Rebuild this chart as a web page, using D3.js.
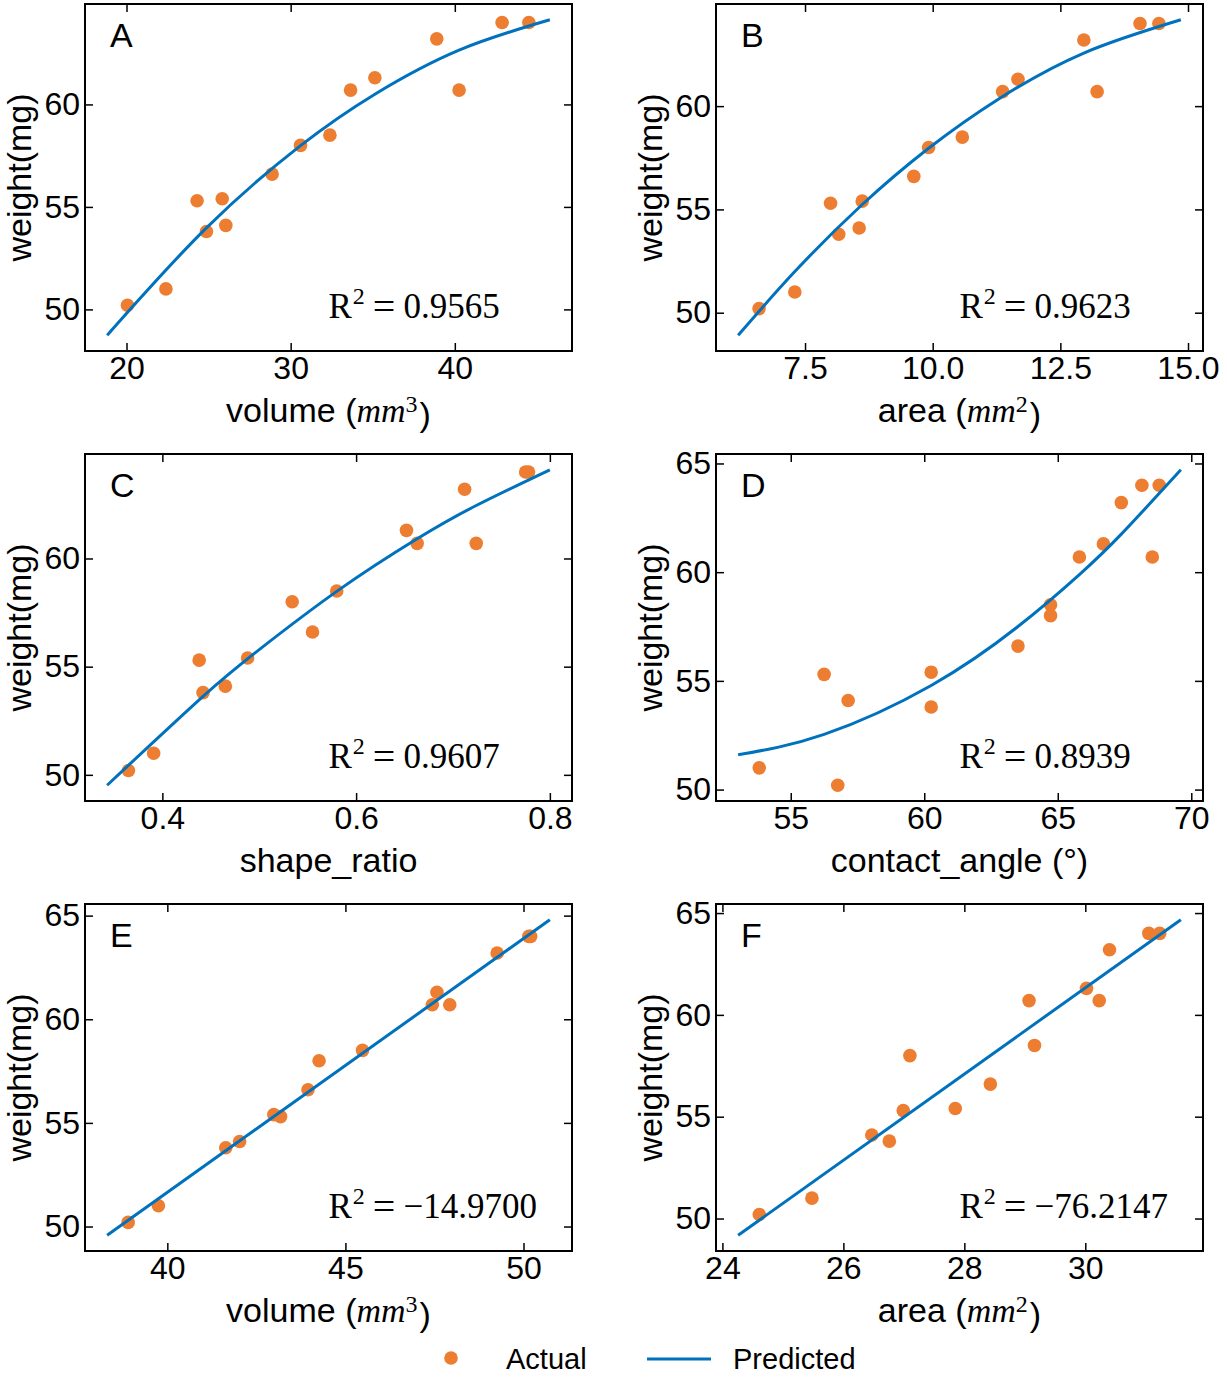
<!DOCTYPE html>
<html><head><meta charset="utf-8">
<script src="https://cdn.jsdelivr.net/npm/d3@7"></script>
<style>
body{margin:0;background:#fff}
svg text{font-family:"Liberation Sans",Arial,sans-serif;fill:#000}
</style>
</head><body>
<svg id="chart" width="1227" height="1392"></svg>
<script>
// ---------- data ----------
const weightMg = [50.2,51.0,53.8,54.1,55.3,55.4,56.6,58.0,58.5,60.7,60.7,61.3,63.2,64.0,64.0];

const volumeA      = [20.06,22.40,24.87,26.05,24.30,25.83,28.87,30.60,32.39,33.65,40.26,35.13,38.90,42.88,44.51];
const areaB        = [6.60,7.30,8.16,8.56,8.00,8.62,9.63,9.92,10.58,11.37,13.22,11.67,12.96,14.06,14.43];
const shapeRatioC  = [0.365,0.391,0.442,0.465,0.438,0.488,0.555,0.534,0.580,0.663,0.724,0.652,0.712,0.775,0.778];
const contactAngD  = [56.76,53.82,60.26,57.15,56.25,60.26,63.51,64.73,64.73,65.81,68.54,66.71,67.38,68.15,68.80];
const volumeE      = [38.90,39.75,41.64,42.03,43.18,42.99,43.95,44.26,45.48,47.44,47.93,47.57,49.26,50.15,50.20];
const areaF        = [24.61,25.48,26.76,26.47,26.99,27.85,28.43,27.10,29.16,29.07,30.23,30.02,30.40,31.05,31.23];

// predicted curves
const predAx = [18.82,24.87,30.60,35.13,40.26,45.79];
const predAy = [48.74,53.98,57.99,60.50,62.65,64.13];
const predBx = [6.19,7.30,8.60,9.92,11.30,12.96,14.86];
const predBy = [48.91,51.99,55.19,57.96,60.36,62.57,64.18];
const predCx = [0.343,0.442,0.500,0.580,0.663,0.724,0.800];
const predCy = [49.52,53.63,55.79,58.48,60.91,62.45,64.10];
const predDx = [53.03,56.25,60.26,63.51,65.81,67.38,69.61];
const predDy = [51.60,52.54,54.79,57.50,59.89,61.75,64.71];
const predEx = [38.31,50.74];
const predEy = [49.58,64.80];
const predFx = [24.26,31.58];
const predFy = [49.18,64.67];

// ticks
const xTicksA = [20,30,40];
const xTicksB = [7.5,10.0,12.5,15.0];
const xTicksC = [0.4,0.6,0.8];
const xTicksD = [55,60,65,70];
const xTicksE = [40,45,50];
const xTicksF = [24,26,28,30];
const yTicksABC = [50,55,60];
const yTicksDEF = [50,55,60,65];

const panelLetters = ["A","B","C","D","E","F"];
const r2Values = ["0.9565","0.9623","0.9607","0.8939","\u221214.9700","\u221276.2147"];
const xLabelMain = ["volume (","area (","shape_ratio","contact_angle (\u00B0)","volume (","area ("];
const xLabelUnitPow = ["3","2",null,null,"3","2"];
const yLabel = "weight(mg)";
const legendLabels = ["Actual","Predicted"];

// ---------- layout ----------
const ORANGE = "#ED7D31", BLUE = "#0072BD";
const W = 487, H = 347;
const lefts = [85, 716], tops = [4, 454, 904];
const TICK_FS = 32, LABEL_FS = 34;

const panels = [
  {xs: volumeA, px: predAx, py: predAy, xt: xTicksA, yt: yTicksABC, fmt: "d"},
  {xs: areaB, px: predBx, py: predBy, xt: xTicksB, yt: yTicksABC, fmt: ".1f"},
  {xs: shapeRatioC, px: predCx, py: predCy, xt: xTicksC, yt: yTicksABC, fmt: ".1f"},
  {xs: contactAngD, px: predDx, py: predDy, xt: xTicksD, yt: yTicksDEF, fmt: "d"},
  {xs: volumeE, px: predEx, py: predEy, xt: xTicksE, yt: yTicksDEF, fmt: "d"},
  {xs: areaF, px: predFx, py: predFy, xt: xTicksF, yt: yTicksDEF, fmt: "d"},
];

const svg = d3.select("#chart");

function padded(vals){
  const [a,b] = d3.extent(vals);
  const p = (b-a)*0.05;
  return [a-p, b+p];
}

panels.forEach((p, i) => {
  const left = lefts[i % 2], top = tops[Math.floor(i / 2)];
  const g = svg.append("g").attr("transform", `translate(${left},${top})`);
  const x = d3.scaleLinear().domain(padded(p.xs.concat(p.px))).range([0, W]);
  const y = d3.scaleLinear().domain(padded(weightMg.concat(p.py))).range([H, 0]);

  // axes (inward ticks on all sides)
  g.append("g").attr("transform", `translate(0,${H})`)
    .call(d3.axisBottom(x).tickValues(p.xt).tickFormat(d3.format(p.fmt)).tickSize(-8).tickPadding(5));
  g.append("g").call(d3.axisTop(x).tickValues(p.xt).tickFormat("").tickSize(-8));
  g.append("g")
    .call(d3.axisLeft(y).tickValues(p.yt).tickFormat(d3.format("d")).tickSize(-8).tickPadding(5));
  g.append("g").attr("transform", `translate(${W},0)`)
    .call(d3.axisRight(y).tickValues(p.yt).tickFormat("").tickSize(-8));
  g.selectAll(".domain").remove();
  g.selectAll(".tick line").attr("stroke", "#000").attr("stroke-width", 1.5);
  g.selectAll(".tick text").style("font-size", TICK_FS + "px")
    .style("font-family", '"Liberation Sans",Arial,sans-serif').attr("fill", "#000");

  // points
  g.append("g").selectAll("circle").data(p.xs).join("circle")
    .attr("cx", d => x(d)).attr("cy", (d, k) => y(weightMg[k]))
    .attr("r", 6.8).attr("fill", ORANGE);

  // predicted
  const line = d3.line().x(d => x(d[0])).y(d => y(d[1]))
    .curve(p.px.length > 2 ? d3.curveNatural : d3.curveLinear);
  g.append("path").datum(p.px.map((v, k) => [v, p.py[k]]))
    .attr("d", line).attr("fill", "none").attr("stroke", BLUE).attr("stroke-width", 3);

  // frame
  g.append("rect").attr("width", W).attr("height", H)
    .attr("fill", "none").attr("stroke", "#000").attr("stroke-width", 2);

  // panel letter
  g.append("text").attr("x", 25).attr("y", 43).style("font-size", "34px").text(panelLetters[i]);

  // R^2
  const r2 = g.append("text").attr("x", W * 0.5).attr("y", H * 0.9 + 2)
    .style("font-family", '"Liberation Serif","Times New Roman",serif').style("font-size", "35px");
  r2.append("tspan").text("R");
  r2.append("tspan").attr("dy", -14).attr("dx", 1).style("font-size", "24px").text("2");
  r2.append("tspan").attr("dy", 16).attr("dx", 8).style("font-size", "40px").text("=");
  r2.append("tspan").attr("dy", -2).attr("dx", 8).text(r2Values[i]);

  // x label
  const xl = g.append("text").attr("x", W / 2).attr("y", H + 71)
    .attr("text-anchor", "middle").style("font-size", LABEL_FS + "px");
  xl.append("tspan").text(xLabelMain[i]);
  if (xLabelUnitPow[i]) {
    xl.append("tspan").style("font-family", '"Liberation Serif",serif').style("font-style", "italic").text("mm");
    xl.append("tspan").attr("dy", "-0.42em").style("font-family", '"Liberation Serif",serif')
      .style("font-size", "24px").text(xLabelUnitPow[i]);
    xl.append("tspan").attr("dy", "0.42em").attr("dx", 2).text(")");
  }

  // y label
  g.append("text").attr("transform", `translate(-54,${H / 2}) rotate(-90)`)
    .attr("text-anchor", "middle").style("font-size", LABEL_FS + "px").text(yLabel);
});

// legend
const lg = svg.append("g");
lg.append("circle").attr("cx", 451).attr("cy", 1358).attr("r", 6.8).attr("fill", ORANGE);
lg.append("text").attr("x", 506).attr("y", 1369).style("font-size", "29px").text(legendLabels[0]);
lg.append("line").attr("x1", 647).attr("x2", 711).attr("y1", 1359).attr("y2", 1359)
  .attr("stroke", BLUE).attr("stroke-width", 3);
lg.append("text").attr("x", 733).attr("y", 1369).style("font-size", "29px").text(legendLabels[1]);
</script>
</body></html>
